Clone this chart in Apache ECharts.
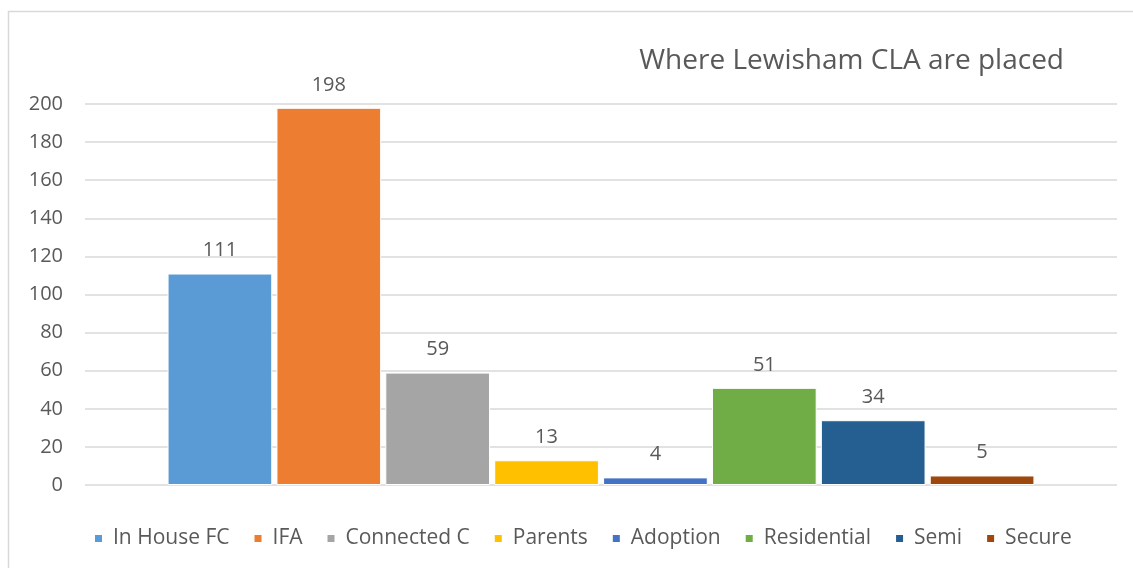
<!DOCTYPE html>
<html>
<head>
<meta charset="utf-8">
<script src="https://cdn.jsdelivr.net/npm/echarts@6/dist/echarts.min.js"></script>
<style>
  html, body { margin: 0; padding: 0; background: #fff; }
  #chart { width: 1133px; height: 568px; }
</style>
</head>
<body>
<div id="chart"></div>
<script>
// Placement types and number of children placed in each
const placementTypes = ['In House FC', 'IFA', 'Connected C', 'Parents', 'Adoption', 'Residential', 'Semi', 'Secure'];
const placementCounts = [111, 198, 59, 13, 4, 51, 34, 5];
const placementColors = ['#5B9BD5', '#ED7D31', '#A5A5A5', '#FFC000', '#4472C4', '#70AD47', '#255E91', '#9E480E'];
const yTicks = [0, 20, 40, 60, 80, 100, 120, 140, 160, 180, 200];

const textColor = '#595959';
const fontFamily = '"Open Sans", "Noto Sans", sans-serif';

const chart = echarts.init(document.getElementById('chart'), null, { renderer: 'canvas' });

const series = placementTypes.map((name, i) => ({
  name: name,
  type: 'bar',
  data: [placementCounts[i]],
  barGap: '4%',
  barCategoryGap: '16%',
  itemStyle: { color: placementColors[i], borderColor: '#fff', borderWidth: 1 },
  label: {
    show: true,
    position: 'top',
    distance: 13,
    color: textColor,
    fontFamily: fontFamily,
    fontSize: 20
  }
}));

chart.setOption({
  animation: false,
  backgroundColor: '#fff',
  title: {
    text: 'Where Lewisham CLA are placed',
    right: 64,
    top: 42,
    textStyle: { color: textColor, fontFamily: fontFamily, fontSize: 28, fontWeight: 'normal' }
  },
  graphic: [{
    type: 'rect',
    shape: { x: 8.5, y: 11.5, width: 1140, height: 580 },
    style: { fill: 'none', stroke: '#D9D9D9', lineWidth: 1.5 },
    silent: true
  }],
  legend: {
    bottom: 14,
    left: 88,
    icon: 'rect',
    itemWidth: 9,
    itemHeight: 9,
    itemGap: 23,
    textStyle: { color: textColor, fontFamily: fontFamily, fontSize: 21, padding: [0, 0, 0, 5] },
    data: placementTypes
  },
  grid: { left: 85, right: 16, top: 104, bottom: 83 },
  xAxis: {
    type: 'category',
    data: [''],
    axisLine: { show: false },
    axisTick: { show: false },
    axisLabel: { show: false }
  },
  yAxis: {
    type: 'value',
    min: yTicks[0],
    max: yTicks[yTicks.length - 1],
    interval: yTicks[1] - yTicks[0],
    axisLine: { show: false },
    axisTick: { show: false },
    axisLabel: { color: textColor, fontFamily: fontFamily, fontSize: 20, margin: 22 },
    splitLine: { lineStyle: { color: '#D9D9D9', width: 1.5 } }
  },
  series: series
});
</script>
</body>
</html>
